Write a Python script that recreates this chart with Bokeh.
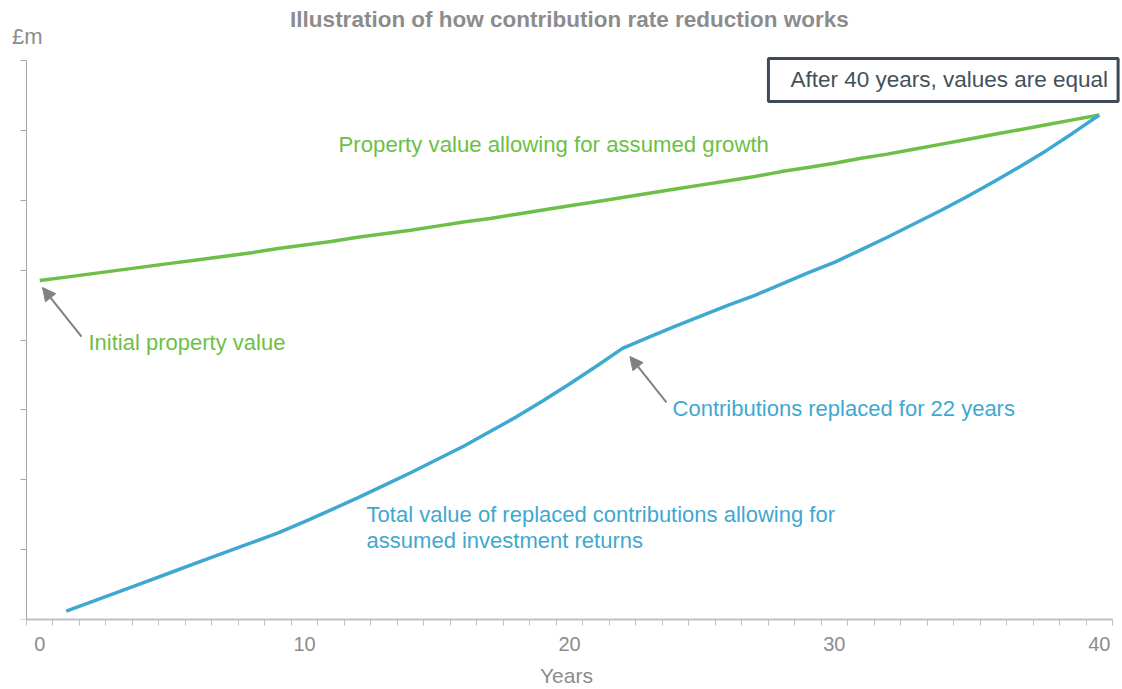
from bokeh.plotting import figure
from bokeh.models import FixedTicker, Label, Arrow, NormalHead, Range1d
from bokeh.embed import file_html
from bokeh.resources import INLINE

# ---- data ----
property_years = list(range(0, 41))
property_value = [48.5, 49.0, 49.5, 50.0, 50.5, 51.0, 51.5, 52.0, 52.5, 53.1,
                  53.6, 54.1, 54.7, 55.2, 55.7, 56.3, 56.9, 57.4, 58.0, 58.6,
                  59.2, 59.8, 60.4, 61.0, 61.6, 62.2, 62.8, 63.4, 64.1, 64.7,
                  65.3, 66.0, 66.6, 67.3, 68.0, 68.7, 69.4, 70.1, 70.8, 71.5,
                  72.2]
contrib_years = list(range(1, 41))
contrib_value = [1.2, 2.6, 4.0, 5.4, 6.8, 8.2, 9.6, 11.0, 12.4,
                 14.0, 15.7, 17.4, 19.2, 21.0, 22.9, 24.8, 26.9, 29.0, 31.3,
                 33.7, 36.2, 38.8, 40.4, 42.0, 43.5, 45.0, 46.4, 48.0, 49.6,
                 51.1, 52.9, 54.7, 56.6, 58.5, 60.5, 62.6, 64.8, 67.1, 69.6,
                 72.2]
x_label_ticks = [0, 10, 20, 30, 40]
y_ticks = [0, 10, 20, 30, 40, 50, 60, 70, 80]

FONT = "Liberation Sans"
GREEN = "#6DBF47"
BLUE = "#3FA8D0"
GREY = "#8C8C8C"
ARROW = "#808080"

p = figure(width=1122, height=689, output_backend="svg", toolbar_location=None,
           x_range=Range1d(-1.1041, 40.8775), y_range=Range1d(0, 88.587),
           min_border_left=10, min_border_right=0, min_border_top=0, min_border_bottom=70)
p.outline_line_color = None
p.grid.visible = False
p.background_fill_color = "white"
p.border_fill_color = "white"

# x axis
xa = p.xaxis[0]
xa.bounds = (-0.5, 40.5)
xa.ticker = FixedTicker(ticks=x_label_ticks, minor_ticks=[i - 0.5 for i in range(42)])
xa.major_tick_out = 0
xa.major_tick_in = 0
xa.minor_tick_out = 6
xa.minor_tick_in = 0
xa.minor_tick_line_color = "#BFBFBF"
xa.minor_tick_line_width = 1
xa.axis_line_color = "#BFBFBF"
xa.axis_line_width = 2
xa.major_label_text_font = FONT
xa.major_label_text_font_size = "20px"
xa.major_label_text_color = GREY
xa.major_label_standoff = 11
xa.axis_label = "Years"
xa.axis_label_text_font = FONT
xa.axis_label_text_font_size = "21px"
xa.axis_label_text_font_style = "normal"
xa.axis_label_text_color = GREY
xa.axis_label_standoff = 10

# y axis (drawn at the start of the category axis, no labels)
ya = p.yaxis[0]
ya.fixed_location = -0.5
ya.bounds = (0, 80)
ya.ticker = FixedTicker(ticks=y_ticks, minor_ticks=[])
ya.major_tick_out = 6
ya.major_tick_in = 0
ya.major_tick_line_color = "#A6A6A6"
ya.axis_line_color = "#A6A6A6"
ya.axis_line_width = 1
ya.major_label_overrides = {t: "" for t in y_ticks}
ya.major_label_standoff = 0

# lines
p.line(property_years, property_value, line_color=GREEN, line_width=3.5)
p.line(contrib_years, contrib_value, line_color=BLUE, line_width=3.5)

def lab(x, y, text, color, size="22px", align="left", **kw):
    l = Label(x=x, y=y, text=text, text_color=color, text_font=FONT,
              text_font_size=size, text_align=align, text_baseline="middle", **kw)
    p.add_layout(l)
    return l

lab(20.0, 85.9, "Illustration of how contribution rate reduction works", GREY,
    size="22.5px", align="center", text_font_style="bold")
lab(-1.05, 83.5, "£m", GREY, size="22px")
lab(11.28, 67.98, "Property value allowing  for assumed growth", GREEN, size="22.2px")
lab(1.84, 39.64, "Initial property value", GREEN)
lab(23.89, 30.2, "Contributions replaced for 22 years", BLUE)
lab(12.34, 15.03, "Total value of replaced contributions allowing  for", BLUE)
lab(12.34, 11.31, "assumed investment returns", BLUE)
lab(27.51, 77.21, "After 40 years, values are equal", "#44505C", size="22.5px",
    background_fill_color="white", border_line_color="#3E4B57", border_line_width=3,
    padding=dict(left=22, right=10, top=9, bottom=9))

p.add_layout(Arrow(end=NormalHead(size=13, fill_color=ARROW, line_color=ARROW),
                   x_start=1.577, y_start=40.5, x_end=0.104, y_end=47.51,
                   line_color=ARROW, line_width=2))
p.add_layout(Arrow(end=NormalHead(size=13, fill_color=ARROW, line_color=ARROW),
                   x_start=23.66, y_start=31.06, x_end=22.28, y_end=37.64,
                   line_color=ARROW, line_width=2))

open("out.html", "w").write(file_html(p, INLINE))
